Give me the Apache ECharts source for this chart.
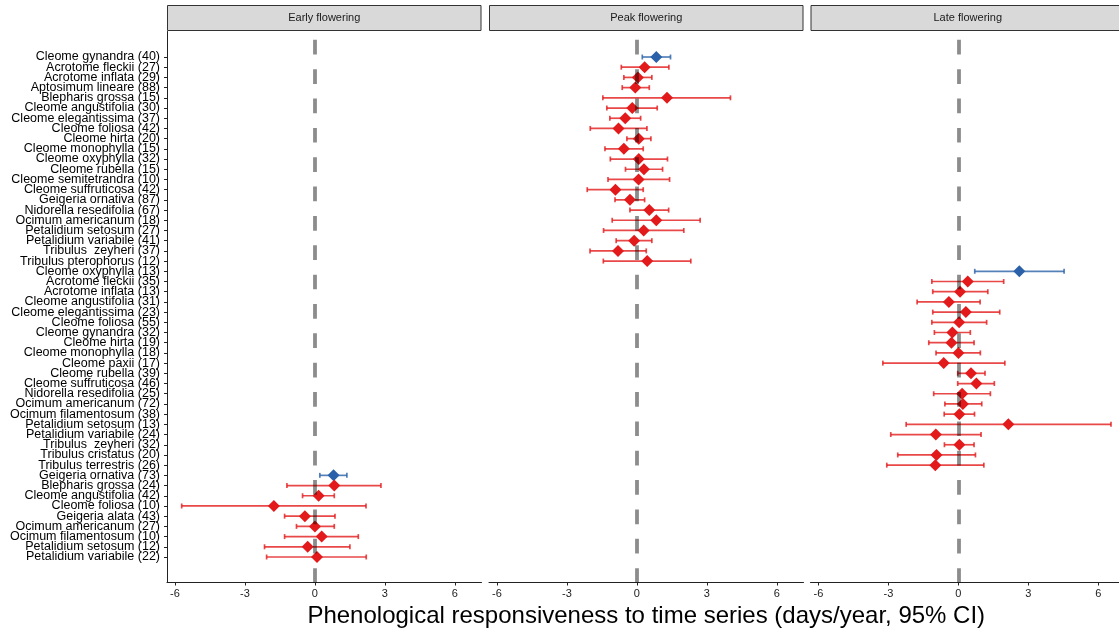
<!DOCTYPE html>
<html>
<head>
<meta charset="utf-8">
<script src="https://cdn.jsdelivr.net/npm/echarts@6/dist/echarts.min.js"></script>
<style>
  html, body { margin: 0; padding: 0; background: #ffffff; }
  #chart { width: 1119px; height: 632px; }
</style>
</head>
<body>
<div id="chart"></div>
<script>
// Flowering-time trend per species and phase: estimate with 95% confidence interval.
const panels = ['Early flowering', 'Peak flowering', 'Late flowering'];

const species = [
  'Cleome gynandra (40)', 'Acrotome fleckii (27)', 'Acrotome inflata (29)', 'Aptosimum lineare (88)',
  'Blepharis grossa (15)', 'Cleome angustifolia (30)', 'Cleome elegantissima (37)', 'Cleome foliosa (42)',
  'Cleome hirta (20)', 'Cleome monophylla (15)', 'Cleome oxyphylla (32)', 'Cleome rubella (15)',
  'Cleome semitetrandra (10)', 'Cleome suffruticosa (42)', 'Geigeria ornativa (87)', 'Nidorella resedifolia (67)',
  'Ocimum americanum (18)', 'Petalidium setosum (27)', 'Petalidium variabile (41)', 'Tribulus  zeyheri (37)',
  'Tribulus pterophorus (12)',
  'Cleome oxyphylla (13)', 'Acrotome fleckii (35)', 'Acrotome inflata (13)', 'Cleome angustifolia (31)',
  'Cleome elegantissima (23)', 'Cleome foliosa (55)', 'Cleome gynandra (32)', 'Cleome hirta (19)',
  'Cleome monophylla (18)', 'Cleome paxii (17)', 'Cleome rubella (39)', 'Cleome suffruticosa (46)',
  'Nidorella resedifolia (25)', 'Ocimum americanum (72)', 'Ocimum filamentosum (38)', 'Petalidium setosum (13)',
  'Petalidium variabile (24)', 'Tribulus  zeyheri (32)', 'Tribulus cristatus (20)', 'Tribulus terrestris (26)',
  'Geigeria ornativa (73)', 'Blepharis grossa (24)', 'Cleome angustifolia (42)', 'Cleome foliosa (10)',
  'Geigeria alata (43)', 'Ocimum americanum (27)', 'Ocimum filamentosum (10)', 'Petalidium setosum (12)',
  'Petalidium variabile (22)'
];

const stage = [
  'Peak flowering', 'Peak flowering', 'Peak flowering', 'Peak flowering', 'Peak flowering', 'Peak flowering',
  'Peak flowering', 'Peak flowering', 'Peak flowering', 'Peak flowering', 'Peak flowering', 'Peak flowering',
  'Peak flowering', 'Peak flowering', 'Peak flowering', 'Peak flowering', 'Peak flowering', 'Peak flowering',
  'Peak flowering', 'Peak flowering', 'Peak flowering',
  'Late flowering', 'Late flowering', 'Late flowering', 'Late flowering', 'Late flowering', 'Late flowering',
  'Late flowering', 'Late flowering', 'Late flowering', 'Late flowering', 'Late flowering', 'Late flowering',
  'Late flowering', 'Late flowering', 'Late flowering', 'Late flowering', 'Late flowering', 'Late flowering',
  'Late flowering', 'Late flowering',
  'Early flowering', 'Early flowering', 'Early flowering', 'Early flowering', 'Early flowering',
  'Early flowering', 'Early flowering', 'Early flowering', 'Early flowering'
];

const estimate = [
  0.83, 0.33, 0.04, -0.07, 1.29, -0.20, -0.50, -0.79, 0.08, -0.56, 0.08, 0.30, 0.07, -0.92, -0.30, 0.53,
  0.83, 0.29, -0.12, -0.81, 0.44,
  2.61, 0.40, 0.07, -0.41, 0.32, 0.03, -0.26, -0.30, 0.00, -0.63, 0.54, 0.77, 0.16, 0.19, 0.04, 2.14,
  -0.97, 0.04, -0.94, -0.99,
  0.80, 0.83, 0.16, -1.76, -0.43, 0.00, 0.29, -0.31, 0.09
];

const lower = [
  0.23, -0.67, -0.56, -0.63, -1.46, -1.29, -1.16, -2.00, -0.43, -1.37, -1.14, -0.49, -1.24, -2.13, -0.94, -0.30,
  -1.06, -1.43, -0.89, -2.01, -1.44,
  0.70, -1.14, -1.10, -1.77, -1.10, -1.14, -1.03, -1.27, -0.96, -3.24, -0.03, -0.03, -1.06, -0.58, -0.61, -2.24,
  -2.90, -0.60, -2.60, -3.07,
  0.21, -1.20, -0.53, -5.71, -1.30, -0.79, -1.30, -2.16, -2.07
];

const upper = [
  1.44, 1.37, 0.64, 0.53, 4.01, 0.87, 0.16, 0.43, 0.60, 0.27, 1.31, 1.10, 1.40, 0.27, 0.33, 1.36,
  2.71, 2.01, 0.64, 0.40, 2.31,
  4.53, 1.94, 1.26, 0.93, 1.77, 1.21, 0.51, 0.67, 0.94, 1.99, 1.14, 1.54, 1.37, 1.00, 0.69, 6.54,
  0.97, 0.67, 0.73, 1.09,
  1.37, 2.83, 0.83, 2.19, 0.86, 0.83, 1.86, 1.50, 2.20
];

const xTicks = [-6, -3, 0, 3, 6];
const xTitle = 'Phenological responsiveness to time series (days/year, 95% CI)';

// ---- layout ----
const FONT = '"Liberation Sans", Arial, Helvetica, sans-serif';
const X_MIN = -6.34, X_MAX = 7.14;
const PANEL_LEFT = [167, 489, 810.5];
const PANEL_W = 314.5;
const GRID_TOP = 31.5, GRID_BOTTOM = 49.5;
const STRIP_TOP = 5, STRIP_H = 25;
const PAD = 2;               // empty category slots above and below the rows
const CAP = 2.5;

const RED = '#e31a1c', BLUE = '#2b61a8';
const RED_BAR = 'rgba(227,26,28,0.8)', BLUE_BAR = 'rgba(43,97,168,0.8)';

const blanksTop = Array.from({ length: PAD }, (_, i) => ' '.repeat(i + 1));
const blanksBottom = Array.from({ length: PAD }, (_, i) => ' '.repeat(PAD + i + 1));
const yCategories = blanksTop.concat(species, blanksBottom);

const excludesZero = r => lower[r] > 0 || upper[r] < 0;

const grid = [], xAxis = [], yAxis = [], series = [], graphic = [];

panels.forEach((name, p) => {
  grid.push({
    left: PANEL_LEFT[p], width: PANEL_W, top: GRID_TOP, bottom: GRID_BOTTOM,
    containLabel: false, outerBoundsMode: 'none'
  });

  xAxis.push({
    gridIndex: p, type: 'value', min: X_MIN, max: X_MAX,
    splitLine: { show: false },
    axisLine: { show: true, onZero: false, lineStyle: { color: '#222', width: 1 } },
    axisTick: { show: true, customValues: xTicks, length: 3, lineStyle: { color: '#222', width: 1 } },
    axisLabel: { customValues: xTicks, fontSize: 11, color: '#222', margin: 6, fontFamily: FONT },
    name: p === 1 ? xTitle : '',
    nameLocation: 'middle', nameGap: 33,
    nameTextStyle: { fontSize: 24, color: '#000', fontFamily: FONT, verticalAlign: 'middle' }
  });

  yAxis.push({
    gridIndex: p, type: 'category', data: yCategories, inverse: true, boundaryGap: true,
    position: 'left',
    axisLine: { show: p === 0, onZero: false, lineStyle: { color: '#222', width: 1 } },
    axisTick: {
      show: p === 0, alignWithLabel: true, length: 3,
      interval: (idx, val) => String(val).trim() !== '',
      lineStyle: { color: '#222', width: 1 }
    },
    axisLabel: { show: p === 0, interval: 0, fontSize: 12.5, color: '#000', margin: 7, fontFamily: FONT },
    splitLine: { show: false }
  });

  const rows = [];
  stage.forEach((s, r) => { if (s === name) rows.push(r); });

  // confidence interval whiskers
  series.push({
    type: 'custom', xAxisIndex: p, yAxisIndex: p, z: 2, silent: true,
    encode: { x: [0, 1], y: 2 },
    data: rows.map(r => [lower[r], upper[r], r + PAD]),
    renderItem: (params, api) => {
      const r = rows[params.dataIndex];
      const stroke = excludesZero(r) ? BLUE_BAR : RED_BAR;
      const a = api.coord([api.value(0), api.value(2)]);
      const b = api.coord([api.value(1), api.value(2)]);
      const style = { stroke: stroke, lineWidth: 1.7 };
      return {
        type: 'group',
        children: [
          { type: 'line', shape: { x1: a[0], y1: a[1], x2: b[0], y2: b[1] }, style: style },
          { type: 'line', shape: { x1: a[0], y1: a[1] - CAP, x2: a[0], y2: a[1] + CAP }, style: style },
          { type: 'line', shape: { x1: b[0], y1: b[1] - CAP, x2: b[0], y2: b[1] + CAP }, style: style }
        ]
      };
    }
  });

  // point estimates, plus the dashed zero reference line
  series.push({
    type: 'scatter', xAxisIndex: p, yAxisIndex: p, z: 3, silent: true,
    symbol: 'diamond', symbolSize: 12,
    data: rows.map(r => ({
      value: [estimate[r], r + PAD],
      itemStyle: { color: excludesZero(r) ? BLUE : RED, opacity: 1 }
    })),
    markLine: {
      silent: true, symbol: 'none', animation: false,
      label: { show: false },
      lineStyle: { color: 'rgba(0,0,0,0.45)', width: 3.8, type: [14.7, 14.65], dashOffset: 21 },
      emphasis: { disabled: true },
      data: [{ xAxis: 0 }]
    }
  });

  // facet strip
  graphic.push({
    type: 'rect', silent: true,
    shape: { x: PANEL_LEFT[p] + 0.5, y: STRIP_TOP + 0.5, width: PANEL_W - 1, height: STRIP_H },
    style: { fill: '#d9d9d9', stroke: '#333333', lineWidth: 1 }
  });
  graphic.push({
    type: 'text', silent: true,
    x: PANEL_LEFT[p] + PANEL_W / 2, y: STRIP_TOP + STRIP_H / 2 + 0.5,
    style: { text: name, fontSize: 11, fontFamily: FONT, fill: '#1a1a1a', align: 'center', verticalAlign: 'middle' }
  });
});

const chart = echarts.init(document.getElementById('chart'), null, { renderer: 'canvas' });
chart.setOption({
  backgroundColor: '#ffffff',
  animation: false,
  grid: grid,
  xAxis: xAxis,
  yAxis: yAxis,
  series: series,
  graphic: graphic
});
</script>
</body>
</html>
